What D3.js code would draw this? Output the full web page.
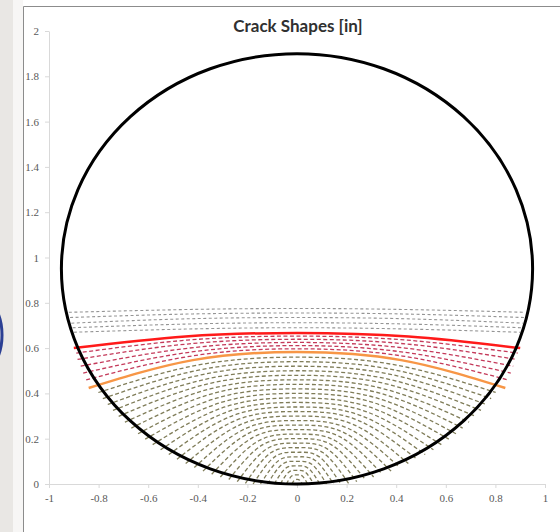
<!DOCTYPE html>
<html>
<head>
<meta charset="utf-8">
<script src="https://cdn.jsdelivr.net/npm/d3@7"></script>
<style>
  body { margin: 0; background: #fff; }
  svg { display: block; }
</style>
</head>
<body>
<div id="chart"></div>
<script>
// axis ticks
var xTicks = [-1, -0.8, -0.6, -0.4, -0.2, 0, 0.2, 0.4, 0.6, 0.8, 1];
var yTicks = [0, 0.2, 0.4, 0.6, 0.8, 1, 1.2, 1.4, 1.6, 1.8, 2];

// pipe section [in]
var pipeCenter = [0, 0.95];
var pipeRadius = 0.95;

// crack fronts: depth at x=0, end x, end y, y at half of end x
var oliveDepth = [0.02, 0.04, 0.06, 0.08, 0.10, 0.12, 0.14, 0.16, 0.18, 0.20, 0.22, 0.24, 0.26, 0.28,
                  0.30, 0.32, 0.34, 0.36, 0.38, 0.40, 0.42, 0.44, 0.46, 0.48, 0.50, 0.52, 0.54, 0.56];
var oliveEndX  = [0.021, 0.043, 0.067, 0.092, 0.119, 0.147, 0.177, 0.208, 0.241, 0.275, 0.309, 0.344, 0.379, 0.414,
                  0.449, 0.484, 0.517, 0.550, 0.582, 0.612, 0.641, 0.668, 0.694, 0.719, 0.742, 0.763, 0.783, 0.801];
var oliveEndY  = [0, 0, 0, 0, 0, 0, 0, 0.003, 0.010, 0.020, 0.031, 0.043, 0.057, 0.073,
                  0.090, 0.109, 0.130, 0.151, 0.174, 0.198, 0.222, 0.247, 0.273, 0.299, 0.325, 0.351, 0.377, 0.404];
var oliveMidY  = [0.017, 0.035, 0.052, 0.069, 0.087, 0.104, 0.121, 0.139, 0.156, 0.174, 0.191, 0.209, 0.227, 0.245,
                  0.264, 0.283, 0.302, 0.321, 0.340, 0.360, 0.380, 0.401, 0.421, 0.442, 0.462, 0.483, 0.504, 0.525];

var orangeFront = { depth: 0.583, endX: 0.84, endY: 0.424, midY: 0.547 };

var redDepth = [0.597, 0.611, 0.625, 0.639, 0.653];
var redEndX  = [0.85, 0.862, 0.872, 0.885, 0.89];
var redEndY  = [0.46, 0.49, 0.52, 0.55, 0.578];
var redMidY  = [0.565, 0.582, 0.60, 0.618, 0.635];

var redFront = { depth: 0.667, endX: 0.90, endY: 0.60, midY: 0.651 };

var grayDepth = [0.69, 0.712, 0.735, 0.755, 0.775];
var grayEndX  = [0.90, 0.905, 0.91, 0.915, 0.92];
var grayEndY  = [0.67, 0.69, 0.71, 0.735, 0.758];
var grayMidY  = [0.684, 0.706, 0.729, 0.75, 0.77];

var width = 560, height = 532;

var svg = d3.select("#chart").append("svg")
    .attr("width", width)
    .attr("height", height);

// window pieces around the chart
svg.append("rect").attr("x", 0).attr("y", 0).attr("width", 13).attr("height", height).attr("fill", "#e9e7e4");
svg.append("ellipse").attr("cx", -18).attr("cy", 335).attr("rx", 20).attr("ry", 36)
    .attr("fill", "none").attr("stroke", "#2b3f93").attr("stroke-width", 3);
svg.append("rect").attr("x", 13).attr("y", 0).attr("width", 10).attr("height", height).attr("fill", "#f7f6f5");

// chart border
svg.append("path")
    .attr("d", "M23.5," + height + "V6.5H" + width)
    .attr("fill", "none").attr("stroke", "#8c8c8c").attr("stroke-width", 1);

var x = d3.scaleLinear().domain([-1, 1]).range([49, 545]);
var y = d3.scaleLinear().domain([0, 2]).range([484, 31]);

var fmt = function(d) { return String(+d.toFixed(1)); };

var xAxis = svg.append("g")
    .attr("transform", "translate(0," + y(0) + ")")
    .call(d3.axisBottom(x).tickValues(xTicks).tickFormat(fmt).tickSizeInner(4).tickSizeOuter(0).tickPadding(6));
var yAxis = svg.append("g")
    .attr("transform", "translate(" + x(-1) + ",0)")
    .call(d3.axisLeft(y).tickValues(yTicks).tickFormat(fmt).tickSizeInner(4).tickSizeOuter(0).tickPadding(6));

[xAxis, yAxis].forEach(function(g) {
    g.select(".domain").attr("stroke", "#d9d9d9");
    g.selectAll(".tick line").attr("stroke", "#d9d9d9");
    g.selectAll("text")
        .attr("fill", "#595959")
        .attr("font-family", "'Liberation Serif', serif")
        .attr("font-size", "11px");
});

// title
svg.append("text")
    .attr("x", 298)
    .attr("y", 32)
    .attr("text-anchor", "middle")
    .attr("font-family", "Lato, sans-serif")
    .attr("font-weight", "bold")
    .attr("font-size", "17px")
    .attr("fill", "#303030")
    .text("Crack Shapes [in]");

function frontPoints(d, ex, ey, my) {
    return [[-ex, ey], [-ex / 2, my], [0, d], [ex / 2, my], [ex, ey]];
}

var line = d3.line()
    .x(function(p) { return x(p[0]); })
    .y(function(p) { return y(p[1]); })
    .curve(d3.curveNatural);

function drawGroup(depth, endX, endY, midY, color, w, dash) {
    var pts = depth.map(function(d, i) { return frontPoints(d, endX[i], endY[i], midY[i]); });
    svg.append("g").selectAll("path")
        .data(pts)
        .enter().append("path")
        .attr("d", line)
        .attr("fill", "none")
        .attr("stroke", color)
        .attr("stroke-width", w)
        .attr("stroke-dasharray", dash);
}

drawGroup(oliveDepth, oliveEndX, oliveEndY, oliveMidY, "#7f7c58", 1.3, "4,2.5");
drawGroup(grayDepth, grayEndX, grayEndY, grayMidY, "#959595", 1.1, "3,2.5");
drawGroup(redDepth, redEndX, redEndY, redMidY, "#c43a5a", 1.3, "4,2.5");

[[orangeFront, "#f79646"], [redFront, "#ff1a1a"]].forEach(function(f) {
    var o = f[0];
    svg.append("path")
        .attr("d", line(frontPoints(o.depth, o.endX, o.endY, o.midY)))
        .attr("fill", "none")
        .attr("stroke", f[1])
        .attr("stroke-width", 2.5);
});

// pipe outline
svg.append("ellipse")
    .attr("cx", x(pipeCenter[0]))
    .attr("cy", y(pipeCenter[1]))
    .attr("rx", x(pipeRadius) - x(0))
    .attr("ry", y(0) - y(pipeRadius))
    .attr("fill", "none")
    .attr("stroke", "#000")
    .attr("stroke-width", 3);
</script>
</body>
</html>
